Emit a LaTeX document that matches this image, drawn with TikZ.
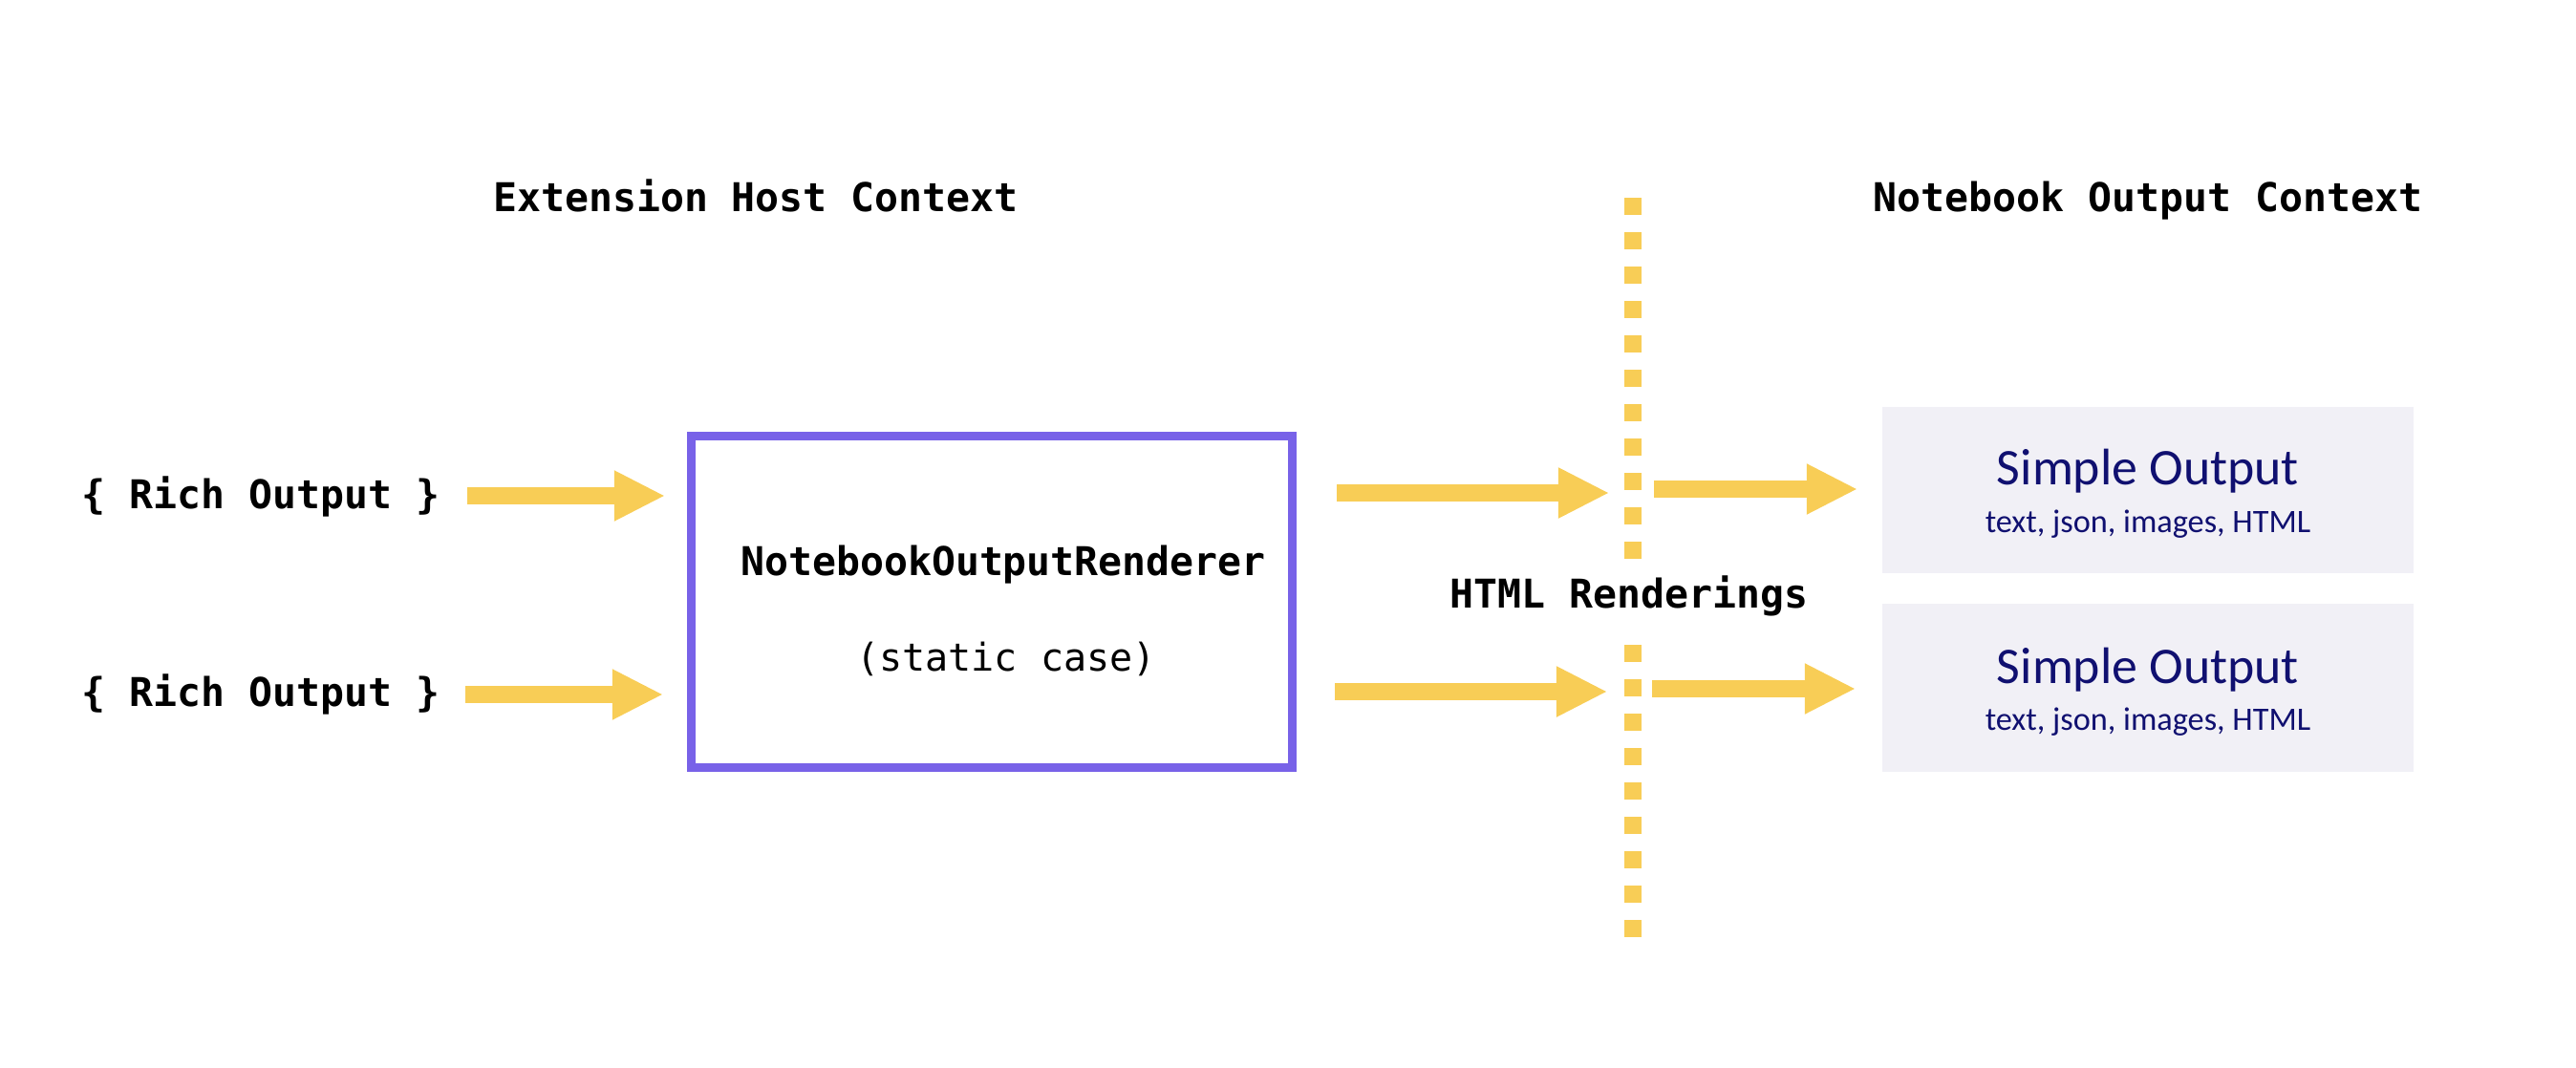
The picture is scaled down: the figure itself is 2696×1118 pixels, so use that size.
\documentclass[tikz,border=0pt]{standalone}
\usepackage{fontspec}
\setmainfont{Carlito}
\setmonofont{DejaVu Sans Mono}
\usetikzlibrary{arrows.meta}
\definecolor{ayellow}{RGB}{248,205,86}
\definecolor{apurple}{RGB}{120,98,232}
\definecolor{anavy}{RGB}{16,16,112}
\definecolor{alav}{RGB}{241,240,246}
\begin{document}
\begin{tikzpicture}[x=0.01cm,y=-0.01cm,
  monolabel/.style={font=\ttfamily\bfseries\fontsize{11.8}{14}\selectfont, inner sep=0pt, outer sep=0pt, anchor=base},
  lightlabel/.style={font=\ttfamily\fontsize{11.4}{14}\selectfont, inner sep=0pt, outer sep=0pt, anchor=base},
  bigtitle/.style={font=\fontsize{15.3}{18}\selectfont, text=anavy, inner sep=0pt, anchor=base},
  smalltitle/.style={font=\fontsize{9.75}{11}\selectfont, text=anavy, inner sep=0pt, anchor=base},
  rendererbox/.style={draw=apurple, line width=0.09cm, minimum width=6.29cm, minimum height=3.47cm, inner sep=0pt, outer sep=0pt},
  simplebox/.style={fill=alav, minimum width=5.56cm, inner sep=0pt, outer sep=0pt},
  bigarrow/.style={draw=ayellow, line width=0.185cm, -{Triangle[length=0.52cm 0 0, width=0.535cm 0 0, line width=0pt 0 0, fill=ayellow]}},
  divider/.style={draw=ayellow, line width=0.18cm, dash pattern=on 0.18cm off 0.18cm}
]
\useasboundingbox (0,0) rectangle (2696,1118);

% titles
\node[monolabel] (exthost) at (791,221) {Extension Host Context};
\node[monolabel] (nbout) at (2248,221) {Notebook Output Context};

% left labels
\node[monolabel] (rich1) at (273,532) {\{ Rich Output \}};
\node[monolabel] (rich2) at (273,739) {\{ Rich Output \}};

% renderer box
\node[rendererbox] (box) at (1038,630) {};
\node[monolabel] (rname) at (1050,602) {NotebookOutputRenderer};
\node[lightlabel] (rcase) at (1053,702) {(static case)};

% divider
\coordinate (dtop) at (1709,207);
\coordinate (dmid1) at (1709,585);
\coordinate (dmid2) at (1709,675);
\coordinate (dbot) at (1709,981);
\draw[divider] (dtop) -- (dmid1);
\draw[divider] (dmid2) -- (dbot);
\node[monolabel] (html) at (1705,636) {HTML Renderings};

% simple output boxes
\node[simplebox, minimum height=1.74cm] (s1) at (2248,513) {};
\node[simplebox, minimum height=1.76cm] (s2) at (2248,720) {};
\node[bigtitle] (s1t) at (2248,507) {Simple Output};
\node[smalltitle] (s1s) at (2248,557) {text, json, images, HTML};
\node[bigtitle] (s2t) at (2248,715) {Simple Output};
\node[smalltitle] (s2s) at (2248,764) {text, json, images, HTML};

% arrow rows
\coordinate (y1) at (0,519);
\coordinate (y2) at (0,727);
\coordinate (y3) at (0,516);
\coordinate (y4) at (0,724);
\coordinate (y5) at (0,512);
\coordinate (y6) at (0,721);

\draw[bigarrow] ([xshift=0.29cm]rich1.east |- y1) -- ([xshift=-0.285cm]box.west |- y1);
\draw[bigarrow] ([xshift=0.27cm]rich2.east |- y2) -- ([xshift=-0.305cm]box.west |- y2);
\draw[bigarrow] ([xshift=0.465cm]box.east |- y3) -- ([xshift=-0.26cm]dtop |- y3);
\draw[bigarrow] ([xshift=0.445cm]box.east |- y4) -- ([xshift=-0.28cm]dtop |- y4);
\draw[bigarrow] ([xshift=0.22cm]dtop |- y5) -- ([xshift=-0.27cm]s1.west |- y5);
\draw[bigarrow] ([xshift=0.20cm]dtop |- y6) -- ([xshift=-0.29cm]s2.west |- y6);
\end{tikzpicture}
\end{document}
